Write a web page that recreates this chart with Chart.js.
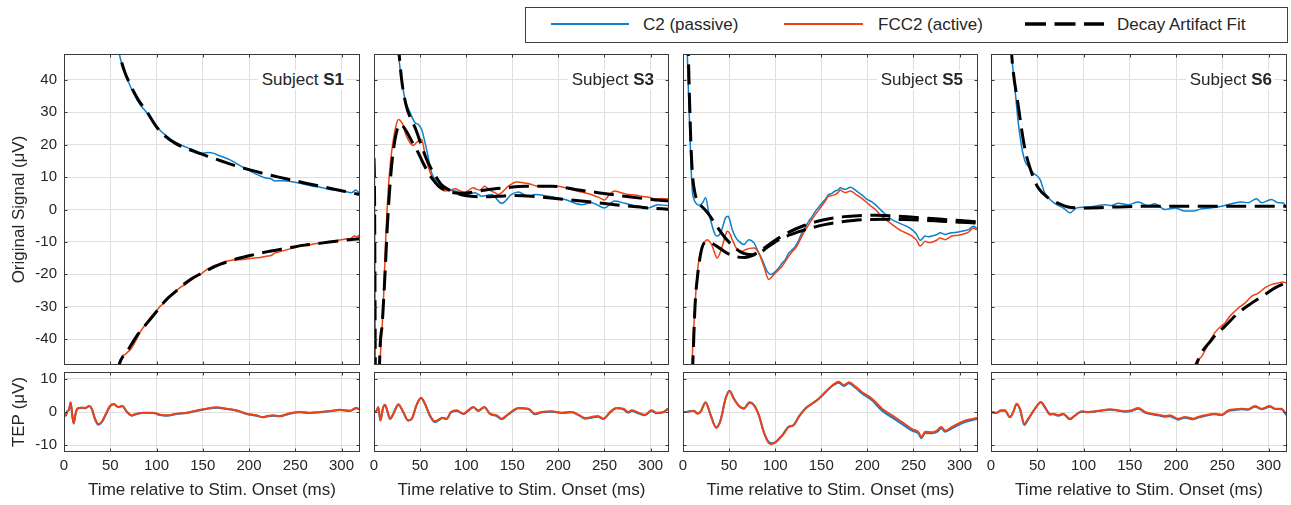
<!DOCTYPE html>
<html><head><meta charset="utf-8">
<script src="https://cdn.jsdelivr.net/npm/chart.js@4.4.0/dist/chart.umd.min.js"></script>
<style>
body{margin:0;background:#fff;width:1291px;height:505px;overflow:hidden;position:relative;font-family:'Liberation Sans',Arial,sans-serif;color:#262626}
canvas{position:absolute;z-index:1}
.lt{position:absolute;top:15px;font-size:17px;line-height:20px;white-space:nowrap}
.subj{position:absolute;z-index:3;top:70px;font-size:17px;line-height:20px;white-space:nowrap;text-align:right;background:#fff;padding:0 2px 0 4px}
#legbox{position:absolute;left:525px;top:7px;width:761px;height:34px;border:1px solid #404040;box-sizing:content-box}
</style></head><body>
<div id="legbox"></div>
<svg style="position:absolute;left:0;top:0" width="1291" height="50">
<line x1="551" y1="24" x2="629" y2="24" stroke="#0c80cc" stroke-width="2"/>
<line x1="784" y1="24" x2="863" y2="24" stroke="#ee4216" stroke-width="2"/>
<line x1="1025" y1="24" x2="1104" y2="24" stroke="#000" stroke-width="3.5" stroke-dasharray="21 8.5"/>
</svg>
<span class="lt" style="left:643px">C2 (passive)</span>
<span class="lt" style="left:878px">FCC2 (active)</span>
<span class="lt" style="left:1117px">Decay Artifact Fit</span>
<div class="subj" style="right:945px">Subject <b>S1</b></div>
<div class="subj" style="right:635px">Subject <b>S3</b></div>
<div class="subj" style="right:326px">Subject <b>S5</b></div>
<div class="subj" style="right:17px">Subject <b>S6</b></div>
<canvas id="c1t" width="362" height="320" style="left:0px;top:50px"></canvas>
<canvas id="c2t" width="303" height="320" style="left:368px;top:50px"></canvas>
<canvas id="c3t" width="303" height="320" style="left:677px;top:50px"></canvas>
<canvas id="c4t" width="304" height="320" style="left:985px;top:50px"></canvas>
<canvas id="c1b" width="362" height="137" style="left:0px;top:368px"></canvas>
<canvas id="c2b" width="303" height="137" style="left:368px;top:368px"></canvas>
<canvas id="c3b" width="303" height="137" style="left:677px;top:368px"></canvas>
<canvas id="c4b" width="304" height="137" style="left:985px;top:368px"></canvas>
<script>
// ---------- tick labels / axis text ----------
const xTicks = [0, 50, 100, 150, 200, 250, 300];
const yTicksTop = [-40, -30, -20, -10, 0, 10, 20, 30, 40];
const yTicksTep = [-10, 0, 10];
const xTitle = 'Time relative to Stim. Onset (ms)';
const yTitleTop = 'Original Signal (μV)';
const yTitleTep = 'TEP (μV)';

// ---------- Subject S1 ----------
const s1C2T = [55, 59.8, 64, 68.8, 75, 82, 89, 97, 104, 111, 118, 125, 138, 150, 156, 161, 168, 179, 194, 205, 217, 224, 228, 236, 248, 258, 269, 278, 287, 295, 302, 311, 315.6, 319, 320];
const s1C2V = [56, 48, 43.5, 40, 36, 32.5, 30, 26.8, 24.4, 22.7, 21.2, 20.1, 18.6, 17.4, 17.6, 17.4, 16.6, 15.4, 12.9, 11.3, 9.8, 9.4, 8.8, 8.9, 8.5, 7.9, 7.2, 6.8, 6.2, 6.0, 5.7, 5.2, 6.0, 5.2, 5.4];
const s1FccT = [55, 58.7, 62, 64, 66, 69, 73, 78, 82, 88, 93, 98, 104, 111, 118, 125, 133, 140, 147, 154, 161, 168, 176, 183, 190, 197, 205, 212, 219, 224, 228, 234, 241, 248, 255, 264, 273, 282, 291, 298, 305, 310, 314, 317, 320];
const s1FccV = [-53, -48, -46, -45, -44.8, -44, -42.8, -40.3, -38, -35.5, -33.5, -32, -29.9, -28, -25.8, -24.2, -22.7, -21.3, -20.1, -18.6, -17.5, -16.8, -16.0, -15.6, -15.5, -15.3, -15.0, -14.8, -14.4, -14.2, -13.4, -13.0, -12.4, -11.9, -11.3, -11.0, -10.5, -10.2, -9.8, -9.4, -9.1, -8.9, -8.2, -8.4, -7.7];
const s1FitC2T = [56, 60, 65, 70, 80, 90, 100, 110, 120, 140, 160, 180, 200, 220, 240, 260, 280, 300, 320];
const s1FitC2V = [54, 48, 43, 39.5, 34, 30, 25.5, 22.5, 20.5, 18, 16, 14, 12.3, 10.8, 9.5, 8.2, 7, 5.8, 4.6];
const s1FitFccT = [57, 60, 70, 80, 90, 100, 110, 120, 130, 140, 150, 160, 170, 180, 200, 220, 240, 260, 280, 300, 320];
const s1FitFccV = [-51, -47.5, -43, -38.5, -35, -31.5, -28, -25.5, -23, -21, -19.5, -18, -16.8, -15.8, -14.3, -13, -12, -11, -10.3, -9.6, -9.0];

// ---------- Subject S3 ----------
const s3C2T = [24, 26.4, 30, 33.6, 39, 44.5, 48, 51.7, 57, 62.5, 70, 77, 88, 98.7, 109.5, 116.8, 127.6, 138.5, 149, 156.5, 167, 174.6, 189, 207, 225, 236, 250, 261, 272, 287, 297.5, 308, 319, 320];
const s3C2V = [55, 48, 40, 34, 30, 26.8, 26.3, 24.7, 18.6, 11.3, 8.2, 6.2, 5.7, 4.6, 5.2, 4.1, 4.6, 1.9, 4.6, 5.4, 4.1, 4.6, 4.1, 3.1, 1.5, 2.1, 0.5, 2.6, 1.9, 1.0, 0.5, 1.5, 1.2, 1.3];
const s3FccT = [0, 0.5, 2, 5, 6.5, 8, 10, 12.7, 15.5, 18, 21, 24, 26.4, 29, 31.8, 34, 37, 40, 42.7, 45.5, 48, 51.7, 55, 58.5, 62.5, 68, 77, 82, 88, 93, 98.7, 103, 107.7, 111, 115, 120, 124, 127.6, 131, 135, 140, 145.7, 150, 154.7, 160, 167, 172, 178, 189, 200, 207, 214, 225, 234, 240, 245, 250, 255, 261, 268, 276, 283, 290, 298, 305, 312, 319, 320];
const s3FccV = [16.5, 10, -70, -70, -48, -40, -30, -9.3, 6.2, 15, 21.6, 26, 27.8, 27.3, 25.8, 23.5, 21.6, 20.2, 19.8, 20.5, 21.1, 21.6, 17.5, 13.5, 10.3, 7.7, 5.7, 5.9, 6.4, 5.8, 5.2, 6.0, 6.7, 6.3, 6.0, 7.2, 6.3, 5.7, 5.2, 4.6, 5.6, 7.2, 8.0, 8.5, 8.3, 8.0, 7.6, 7.2, 7.3, 7.2, 6.8, 6.2, 5.4, 4.8, 4.1, 3.6, 2.9, 4.5, 5.7, 5.2, 4.6, 4.5, 4.1, 3.8, 3.3, 3.4, 3.3, 3.4];
const s3FitC2T = [26, 30, 35, 40, 44.5, 51.7, 57, 62.5, 68, 73, 80, 88, 98.7, 117, 135, 153, 171, 189, 207, 225, 243, 261, 279, 297, 320];
const s3FitC2V = [52, 40, 32, 28, 25.3, 19.6, 15.5, 12.4, 9.8, 7.7, 6.3, 5.2, 4.3, 3.9, 4.1, 4.3, 4.1, 3.6, 3.1, 2.6, 2.1, 1.5, 1.0, 0.5, 0.1];
const s3FitFccT = [0, 0.5, 2, 5, 6, 9, 12, 14.5, 17, 20, 22.8, 25, 28, 32, 37, 42, 48, 53, 59, 64, 70, 77, 84, 92, 100, 112, 124, 142, 164, 193, 218, 243, 272, 301, 320];
const s3FitFccV = [16, 8, -70, -70, -48, -35, -19.6, -5, 6.2, 16, 21.6, 24.5, 26.3, 25.5, 23.2, 20.5, 17.5, 14.5, 11.3, 9.2, 7.2, 6.0, 5.3, 5.0, 5.1, 5.6, 6.2, 6.7, 7.2, 7.2, 6.2, 5.2, 4.1, 3.1, 2.6];

// ---------- Subject S5 ----------
const s5C2T = [3, 4.7, 6.5, 8.3, 10, 12, 13.7, 17.3, 21, 24.5, 28, 31.8, 34.5, 37, 40.8, 44, 46, 49, 51, 53.4, 57, 60.6, 66, 71.5, 77, 80.5, 86, 91.3, 95, 100.4, 104, 107.6, 111, 114.8, 118, 122, 125.5, 129, 132.5, 136.5, 140, 143.7, 147.5, 151, 154.5, 158, 161.5, 165, 168, 170.8, 173.5, 176, 179, 181.6, 186, 190.6, 195, 199.6, 204, 208.7, 213, 217.7, 222, 226.7, 232, 237.5, 243, 248.4, 253, 257.4, 262.8, 266, 270, 275, 279, 284.5, 288, 291.7, 297, 302.5, 306, 309.7, 315, 318.8, 320];
const s5C2V = [80, 48, 32, 16.5, 6.2, 3.0, 2.1, 1.3, 1.9, 3.6, -1.0, -5.2, -7.5, -8.2, -7.2, -4.5, -2.6, -2.1, -3.5, -6.2, -8.5, -9.8, -10.8, -9.3, -10.3, -12.4, -15.5, -19.1, -20.1, -19.1, -18, -16.5, -15.5, -13.4, -12.6, -11.3, -9.5, -7.2, -5.5, -3.6, -2.2, -0.5, 0.8, 2.1, 3.2, 4.6, 5.0, 5.7, 6.0, 6.7, 6.4, 6.2, 6.6, 6.9, 6.2, 5.2, 4.3, 3.1, 2.5, 1.5, 0.3, -1.0, -2.0, -3.1, -3.9, -4.6, -5.2, -6.2, -7.5, -9.5, -8.2, -8.4, -8.2, -7.8, -7.2, -7.7, -7.4, -7.2, -7.0, -6.7, -6.5, -6.2, -5.2, -5.7, -5.5];
const s5FccT = [9, 10, 12, 15.5, 18, 21, 24, 26.4, 29, 31.8, 34.5, 37, 40, 42.6, 45.5, 48, 51, 53.4, 57, 60.6, 64, 67.9, 72, 77, 82, 87.7, 93, 98.5, 103, 107.6, 111, 114.8, 118, 122, 125.5, 129, 132.5, 136.5, 140, 143.7, 147.5, 151, 154.5, 158, 161.5, 165, 168, 170.8, 173.5, 176, 179, 181.6, 186, 190.6, 195, 199.6, 204, 208.7, 213, 217.7, 222, 226.7, 232, 237.5, 243, 248.4, 253, 257.4, 262.8, 266, 270, 275, 279, 284.5, 288, 291.7, 297, 302.5, 306, 309.7, 315, 318.8, 320];
const s5FccV = [-70, -48, -35, -19.6, -14.5, -11.3, -9.8, -9.3, -10, -11.3, -13.5, -15, -13.5, -11.3, -8.5, -6.7, -7.5, -9.3, -11.5, -12.9, -12.9, -12.4, -12.0, -11.9, -13.4, -17.5, -21.6, -20.1, -18.8, -17.5, -16.0, -14.4, -13.2, -11.9, -10.2, -8.2, -6.4, -4.6, -3.0, -1.5, -0.1, 1.3, 2.7, 4.1, 4.3, 4.6, 5.2, 6.0, 5.5, 5.2, 5.5, 5.7, 5.0, 4.1, 3.2, 2.1, 1.0, 0, -1.3, -2.6, -3.6, -4.6, -5.7, -6.7, -7.4, -8.2, -9.3, -11.3, -9.8, -10.2, -10.1, -9.5, -8.8, -9.3, -8.8, -8.2, -8.0, -7.7, -7.4, -7.0, -5.7, -6.2, -6.0];
const s5FitC2T = [4, 5, 8, 10, 13, 17, 22, 28, 35, 45, 55, 65, 75, 82, 90, 100, 110, 125, 140, 155, 170, 185, 200, 220, 240, 260, 280, 300, 320];
const s5FitC2V = [80, 60, 25, 12, 5, 2, 0.5, -1.5, -4.5, -8.5, -11.5, -13.5, -14.0, -13.6, -12, -10, -8.5, -6.9, -5.6, -4.6, -3.9, -3.4, -3.1, -3.0, -3.1, -3.3, -3.6, -3.9, -4.2];
const s5FitFccT = [9, 11, 13, 16, 20, 25, 30, 40, 50, 60, 67, 75, 85, 100, 115, 130, 145, 160, 175, 190, 210, 230, 250, 270, 290, 305, 320];
const s5FitFccV = [-60, -45, -30, -20, -12.5, -10, -10.2, -12, -13.8, -14.7, -14.8, -14.2, -12.5, -9.5, -7.0, -5.1, -3.7, -2.8, -2.2, -1.9, -1.8, -2.0, -2.4, -2.8, -3.2, -3.5, -3.8];

// ---------- Subject S6 ----------
const s6C2T = [20, 22.3, 26, 29.5, 33, 36.7, 40, 45.7, 53, 58, 63.8, 71, 78, 85.4, 92.6, 101.6, 112, 123, 130, 137.6, 148.4, 159, 170, 177, 188, 199, 209.7, 218.6, 227.7, 238.5, 249.3, 260, 271, 278, 287, 292.5, 303, 310.5, 316, 319.5, 320];
const s6C2V = [60, 48, 37, 26.8, 19.6, 15, 13.4, 11.3, 9.3, 5.2, 3.1, 1.5, 0.5, -1.0, 0.5, 0.7, 1.0, 1.5, 1.2, 1.9, 1.5, 2.3, 1.2, 1.8, 0, 0.5, -0.5, -0.5, 0.2, 0.5, 1.0, 1.8, 2.3, 2.1, 3.3, 2.1, 3.1, 2.1, 2.0, 0.5, 0.4];
const s6FccT = [218, 220.5, 227.7, 235, 242, 248, 253, 258, 263.7, 269, 274.5, 281.7, 289, 296, 303, 310.5, 315, 320];
const s6FccV = [-52, -48, -45.4, -41.5, -38, -36.2, -35, -33, -31.4, -30, -28.9, -26.8, -25.8, -24.2, -23.2, -22.7, -22.4, -22.7];
const s6FitC2T = [20, 22.3, 29.5, 36.7, 44, 51, 62, 76, 87, 101.6, 137.6, 173.6, 209.7, 245.7, 281.7, 320];
const s6FitC2V = [60, 48, 32, 18.6, 11.3, 6.7, 3.6, 1.5, 0.6, 0.5, 0.8, 1.0, 1.0, 1.0, 1.0, 1.0];
const s6FitFccT = [219, 222, 238.5, 253, 267, 281.7, 296, 307, 320];
const s6FitFccV = [-52, -48, -40.2, -36, -32, -28.9, -26.3, -24.2, -22.5];

// ---------- TEP (bottom row) ----------
const s1TepT = [0, 2, 3.5, 5.5, 7.2, 9, 10.5, 12.5, 14.5, 19, 22.7, 27.4, 30, 33.5, 37, 40.7, 45.4, 49.7, 54, 58.7, 63, 67.7, 73, 78.5, 85.7, 96.5, 103.7, 111, 121.7, 132.5, 143, 154, 165, 175.8, 186.6, 197.4, 208, 215, 220, 226, 233.4, 244, 255, 265.9, 276.7, 287.5, 298.3, 309, 316, 320];
const s1TepFcc = [-0.5, -1.0, 0.2, 0.8, 2.9, -1.0, -3.3, -0.5, 1.0, 1.3, 1.2, 1.8, 1.0, -2.0, -3.6, -3.0, -0.5, 1.8, 2.4, 1.5, 1.8, 0.2, -1.0, -0.5, -0.2, -0.2, -0.8, -1.0, -0.5, -0.2, 0.4, 1.0, 1.4, 1.0, 0.5, -0.5, -1.0, -1.5, -1.2, -1.0, -1.2, -0.4, 0, -0.2, 0, 0.3, 0.7, 0.4, 1.2, 0.8];
const s1TepC2 = [-0.5, -1.1, 0.2, 0.7, 2.8, -1.2, -3.5, -0.6, 1.0, 1.3, 1.1, 1.8, 0.9, -2.1, -3.8, -3.1, -0.6, 1.7, 2.3, 1.4, 1.8, 0.1, -1.1, -0.6, -0.3, -0.3, -0.9, -1.1, -0.6, -0.3, 0.3, 0.9, 1.3, 0.9, 0.4, -0.6, -1.1, -1.6, -1.3, -1.1, -1.3, -0.5, -0.1, -0.3, -0.1, 0.2, 0.6, 0.3, 1.1, 0.7];
const s3TepT = [0, 2.9, 4.7, 6.9, 10, 12, 14.8, 17.4, 21, 26.4, 31.8, 37, 41, 46, 51, 55.3, 60.7, 66, 71.6, 74, 78.8, 83.5, 89.7, 97, 102, 107.7, 113, 119.7, 125.8, 133, 138.5, 144, 151, 156.5, 167.4, 174.6, 181.9, 192.7, 203.5, 214.4, 223, 228.9, 236, 243, 248.7, 256, 263, 270.4, 275.8, 279.5, 286.7, 294, 301, 306.6, 313.8, 319, 320];
const s3TepFcc = [0, 0.5, 1.5, -2.5, 1.5, 2.2, 0, -2.0, -0.5, 2.3, 0, -2.5, -2.0, 2.0, 4.3, 2.5, -1.0, -2.8, -2.0, -1.7, -2.0, 0, 0.5, -0.5, 0.5, 1.5, 0.5, 1.5, -0.5, -1.0, -2.0, -1.0, 0.5, 1.2, 1.0, -0.5, 0, 0.2, -0.2, 0, -1.0, -1.8, -1.5, -1.2, -2.0, 0, 1.2, 1.0, 0, 0.5, -0.2, -0.8, 0.5, -0.2, 0, 1.0, 1.1];
const s3TepC2 = [0, 0.4, 1.4, -2.6, 1.4, 2.1, -0.1, -2.1, -0.6, 2.2, -0.1, -2.6, -2.1, 1.9, 4.2, 2.4, -1.2, -3.0, -2.2, -1.8, -2.1, -0.1, 0.3, -0.6, 0.3, 1.4, 0.3, 1.4, -0.6, -1.2, -2.2, -1.1, 0.3, 1.1, 0.9, -0.7, -0.1, 0.1, -0.3, -0.1, -1.1, -2.0, -1.7, -1.4, -2.1, -0.2, 1.1, 0.8, -0.2, 0.3, -0.4, -1.0, 0.3, -0.4, -0.1, 0.9, 1.0];
const s5TepT = [0, 4.7, 8.3, 12, 15.5, 19, 24.5, 30, 36, 40.8, 46.2, 50.5, 55, 60.6, 66, 72.2, 77, 82.3, 87.7, 93, 96.5, 100.4, 104, 107.6, 114.8, 120, 125.6, 132.9, 140, 147.3, 154.5, 161.7, 169, 174.4, 180, 187, 194, 205, 216, 226.7, 237.5, 248.4, 255.6, 258.5, 262.8, 270, 275.5, 280, 284.5, 291.7, 302.5, 311.5, 318.8, 320];
const s5TepFcc = [0, 0, 0.2, 0.3, -0.5, 0, 2.8, -1.0, -4.8, -2.5, 4.0, 6.3, 4.0, 1.8, 1.0, 2.8, 2.0, -1.0, -6.1, -9.3, -9.6, -9.1, -8.2, -7.1, -4.5, -4.0, -1.5, 1.0, 2.5, 4.0, 6.0, 7.9, 9.1, 8.1, 8.9, 7.6, 6.0, 4.0, 1.0, -1.0, -3.0, -5.1, -6.1, -7.6, -5.9, -6.1, -5.6, -4.5, -5.6, -4.5, -3.0, -2.2, -1.8, -1.7];
const s5TepC2 = [0, 0.1, 0.3, 0.4, -0.4, 0.1, 2.9, -0.9, -4.6, -2.4, 4.1, 6.4, 4.1, 1.9, 1.1, 2.9, 2.1, -0.9, -6.0, -9.0, -9.4, -9.0, -8.0, -7.0, -4.4, -3.9, -1.4, 1.1, 2.5, 4.0, 5.9, 7.8, 8.8, 7.8, 8.6, 7.3, 5.6, 3.5, 0.4, -1.6, -3.6, -5.6, -6.5, -7.9, -6.3, -6.4, -6.0, -4.9, -5.9, -4.9, -3.4, -2.6, -2.1, -2.0];
const s6TepT = [0, 6, 10.8, 15, 20.5, 24, 27.7, 31.3, 36, 40.3, 47.5, 54, 58.4, 63.8, 67.4, 72.8, 78, 85.4, 90.8, 98, 105, 112.4, 119.6, 128.6, 137.6, 144.8, 152, 159.2, 166.4, 173.6, 180.8, 188, 193.4, 202.4, 209.6, 218.7, 224, 231, 242, 249.3, 256.5, 263.7, 270.9, 278, 285.3, 292.5, 301.5, 307, 314, 319.5, 320];
const s6TepFcc = [0, -0.2, 0.5, 0.5, -1.5, 0, 2.5, 1.0, -3.5, -2.0, 1.0, 3.0, 1.5, -0.8, -0.5, -1.0, -0.5, -2.0, -1.0, 0.2, 0, 0.2, 0.5, 0.8, 0.5, 0.2, 0.5, 1.2, 0, -0.5, -0.8, -1.2, -1.0, -2.0, -1.5, -2.0, -1.5, -1.0, -0.5, -0.8, 0.5, 0.8, 1.0, 0.8, 1.8, 1.0, 1.8, 1.0, 1.0, -0.8, -0.9];
const s6TepC2 = [0, -0.3, 0.4, 0.4, -1.6, -0.1, 2.3, 0.8, -3.9, -2.2, 0.9, 2.9, 1.3, -0.6, -0.7, -1.1, -0.7, -2.2, -1.1, 0.1, -0.1, 0.1, 0.4, 0.7, 0.4, 0.1, 0.3, 1.0, -0.2, -0.7, -1.0, -1.4, -1.3, -2.3, -1.7, -2.2, -1.7, -1.2, -0.7, -0.9, 0.3, 0.6, 0.8, 0.7, 1.6, 0.8, 1.6, 0.9, 0.8, -0.9, -1.0];

// ---------- styling ----------
const BLUE = '#0c80cc', RED = '#ee4216', TXT = '#262626', GRID = '#dfdfdf', BOX = '#3a3a3a';
Chart.defaults.font.family = "'Liberation Sans', Arial, sans-serif";
Chart.defaults.color = TXT;

const pts = (t, v) => t.map((x, i) => ({ x: x, y: v[i] }));
const line = (t, v, color, w) => ({ data: pts(t, v), borderColor: color, borderWidth: w, pointRadius: 0, cubicInterpolationMode: 'monotone', fill: false, clip: 0 });
const fit = (t, v) => ({ data: pts(t, v), borderColor: '#000', borderWidth: 3, borderDash: [20, 8.5], pointRadius: 0, cubicInterpolationMode: 'monotone', fill: false, clip: 0 });

const boxPlugin = {
  id: 'matlabBox',
  afterDraw(chart) {
    const { ctx, chartArea: a, scales } = chart;
    const L = Math.round(a.left) + 0.5, R = Math.round(a.right) - 0.5, T = Math.round(a.top) + 0.5, B = Math.round(a.bottom) - 0.5;
    ctx.save();
    ctx.strokeStyle = BOX; ctx.lineWidth = 1;
    ctx.strokeRect(L, T, R - L, B - T);
    const tl = 3;
    ctx.beginPath();
    scales.x.ticks.forEach(t => { const p = Math.round(scales.x.getPixelForValue(t.value)) + 0.5; ctx.moveTo(p, T); ctx.lineTo(p, T + tl); ctx.moveTo(p, B); ctx.lineTo(p, B - tl); });
    scales.y.ticks.forEach(t => { const p = Math.round(scales.y.getPixelForValue(t.value)) + 0.5; ctx.moveTo(L, p); ctx.lineTo(L + tl, p); ctx.moveTo(R, p); ctx.lineTo(R - tl, p); });
    ctx.stroke();
    ctx.restore();
  }
};

function makeChart(id, datasets, o) {
  new Chart(document.getElementById(id), {
    type: 'line',
    data: { datasets: datasets },
    options: {
      responsive: false, animation: false, events: [],
      layout: { padding: { top: 4, right: 2, bottom: o.padB, left: 0 } },
      plugins: { legend: { display: false }, tooltip: { enabled: false } },
      scales: {
        x: {
          type: 'linear', min: 0, max: 320,
          afterBuildTicks: s => { s.ticks = xTicks.map(v => ({ value: v })); },
          afterFit: s => { s.height = o.xH; s.paddingLeft = 0; s.paddingRight = 0; },
          grid: { color: GRID, drawTicks: false, lineWidth: 1 }, border: { display: false },
          ticks: { display: o.xLab, padding: 5, font: { size: 15 }, color: TXT, maxRotation: 0, autoSkip: false },
          title: { display: o.xLab, text: xTitle, font: { size: 17 }, color: TXT, padding: { top: 0, bottom: 4 } }
        },
        y: {
          type: 'linear', min: o.yMin, max: o.yMax,
          afterBuildTicks: s => { s.ticks = o.yTicks.map(v => ({ value: v })); },
          afterFit: s => { s.width = o.yW; s.paddingTop = 0; s.paddingBottom = 0; },
          grid: { color: GRID, drawTicks: false, lineWidth: 1 }, border: { display: false },
          ticks: { display: o.yLab, padding: 7, font: { size: 15 }, color: TXT },
          title: { display: o.yLab, text: o.yTitle, font: { size: 17 }, color: TXT, padding: { top: 9, bottom: 0 } }
        }
      }
    },
    plugins: [boxPlugin]
  });
}

const topOpt = (first) => ({ padB: 5, xH: 0, xLab: false, yMin: -48, yMax: 48, yTicks: yTicksTop, yW: first ? 64 : 6, yLab: first, yTitle: yTitleTop });
const botOpt = (first) => ({ padB: 0, xH: 53, xLab: true, yMin: -12, yMax: 12, yTicks: yTicksTep, yW: first ? 64 : 6, yLab: first, yTitle: yTitleTep });

makeChart('c1t', [fit(s1FitFccT, s1FitFccV), fit(s1FitC2T, s1FitC2V), line(s1FccT, s1FccV, RED, 1.5), line(s1C2T, s1C2V, BLUE, 1.5)], topOpt(true));
makeChart('c2t', [fit(s3FitFccT, s3FitFccV), fit(s3FitC2T, s3FitC2V), line(s3FccT, s3FccV, RED, 1.5), line(s3C2T, s3C2V, BLUE, 1.5)], topOpt(false));
makeChart('c3t', [fit(s5FitFccT, s5FitFccV), fit(s5FitC2T, s5FitC2V), line(s5FccT, s5FccV, RED, 1.5), line(s5C2T, s5C2V, BLUE, 1.5)], topOpt(false));
makeChart('c4t', [fit(s6FitFccT, s6FitFccV), fit(s6FitC2T, s6FitC2V), line(s6FccT, s6FccV, RED, 1.5), line(s6C2T, s6C2V, BLUE, 1.5)], topOpt(false));

makeChart('c1b', [line(s1TepT, s1TepFcc, RED, 2), line(s1TepT, s1TepC2, BLUE, 2)], botOpt(true));
makeChart('c2b', [line(s3TepT, s3TepFcc, RED, 2), line(s3TepT, s3TepC2, BLUE, 2)], botOpt(false));
makeChart('c3b', [line(s5TepT, s5TepFcc, RED, 2), line(s5TepT, s5TepC2, BLUE, 2)], botOpt(false));
makeChart('c4b', [line(s6TepT, s6TepFcc, RED, 2), line(s6TepT, s6TepC2, BLUE, 2)], botOpt(false));
</script>
</body></html>
